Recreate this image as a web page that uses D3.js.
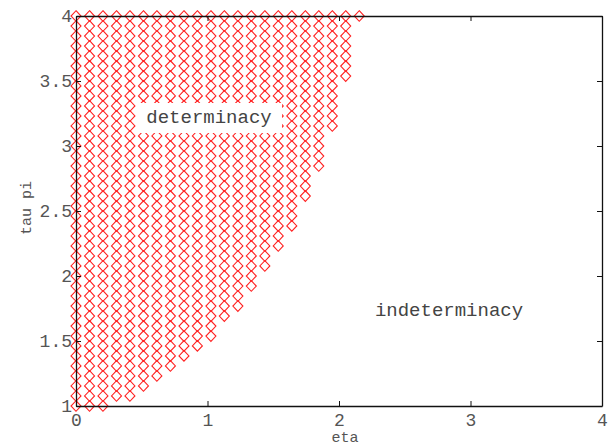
<!DOCTYPE html>
<html>
<head>
<meta charset="utf-8">
<script src="https://cdn.jsdelivr.net/npm/d3@7"></script>
<style>
  body { margin: 0; background: #fff; }
  svg { display: block; }
</style>
</head>
<body>
<svg id="chart" width="615" height="446"></svg>
<script>
// grid levels of the parameter scan
let etaLevels = [0, 0.103, 0.205, 0.308, 0.410, 0.513, 0.615, 0.718, 0.821, 0.923,
    1.026, 1.128, 1.231, 1.333, 1.436, 1.538, 1.641, 1.744, 1.846, 1.949, 2.051, 2.154];

let tauLevels = [1, 1.077, 1.154, 1.231, 1.308, 1.385, 1.462, 1.538, 1.615, 1.692,
    1.769, 1.846, 1.923, 2, 2.077, 2.154, 2.231, 2.308, 2.385, 2.462,
    2.538, 2.615, 2.692, 2.769, 2.846, 2.923, 3, 3.077, 3.154, 3.231,
    3.308, 3.385, 3.462, 3.538, 3.615, 3.692, 3.769, 3.846, 3.923, 4];

// for each tau row, index of the last eta column that is still determinate
let lastColumn = [2, 4, 5, 6, 7, 8, 9, 10, 10, 11,
    12, 12, 13, 13, 14, 14, 15, 15, 16, 16,
    16, 17, 17, 17, 18, 18, 18, 18, 19, 19,
    19, 19, 19, 20, 20, 20, 20, 20, 20, 21];

let xTicks = [0, 1, 2, 3, 4];
let yTicks = [1, 1.5, 2, 2.5, 3, 3.5, 4];

let points = [];
tauLevels.forEach((tau, k) => {
    for (let j = 0; j <= lastColumn[k]; j++) {
        points.push({eta: etaLevels[j], tau: tau});
    }
});

let svg = d3.select('#chart');
let mLeft = 76, mRight = 602, mTop = 16, mBottom = 406;

let x = d3.scaleLinear().domain([0, 4]).range([mLeft, mRight]);
let y = d3.scaleLinear().domain([1, 4]).range([mBottom, mTop]);

let font = '"Liberation Mono", "DejaVu Sans Mono", monospace';
let fmt = d => String(d);

// markers
let diamond = 'M0,-5.3L5,0L0,5.3L-5,0Z';
svg.append('g')
    .selectAll('path')
    .data(points)
    .join('path')
    .attr('d', diamond)
    .attr('transform', d => `translate(${x(d.eta)},${y(d.tau)})`)
    .attr('fill', 'none')
    .attr('stroke', '#ff2020')
    .attr('stroke-width', 1.1);

// axes (inward ticks on every side)
function styleAxis(g) {
    g.select('.domain').attr('stroke', '#111').attr('stroke-width', 1.3);
    g.selectAll('.tick line').attr('stroke', '#111');
    g.selectAll('.tick text')
        .attr('fill', '#555')
        .attr('font-family', font)
        .attr('font-size', 18);
}

svg.append('g')
    .attr('transform', `translate(0,${mBottom})`)
    .call(d3.axisBottom(x).tickValues(xTicks).tickFormat(fmt)
        .tickSizeInner(-5).tickSizeOuter(0).tickPadding(7))
    .call(styleAxis);

svg.append('g')
    .attr('transform', `translate(0,${mTop})`)
    .call(d3.axisTop(x).tickValues(xTicks).tickSizeInner(-5).tickSizeOuter(0).tickFormat(''))
    .call(styleAxis);

svg.append('g')
    .attr('transform', `translate(${mLeft},0)`)
    .call(d3.axisLeft(y).tickValues(yTicks).tickFormat(fmt)
        .tickSizeInner(-5).tickSizeOuter(0).tickPadding(4))
    .call(styleAxis);

svg.append('g')
    .attr('transform', `translate(${mRight},0)`)
    .call(d3.axisRight(y).tickValues(yTicks).tickSizeInner(-5).tickSizeOuter(0).tickFormat(''))
    .call(styleAxis);

// region labels
svg.append('rect')
    .attr('x', 137).attr('y', 103)
    .attr('width', 145).attr('height', 30)
    .attr('fill', '#fff');

svg.append('text')
    .attr('x', 209).attr('y', 123)
    .attr('text-anchor', 'middle')
    .attr('font-family', font)
    .attr('font-size', 19)
    .attr('fill', '#444')
    .text('determinacy');

svg.append('text')
    .attr('x', 449).attr('y', 316)
    .attr('text-anchor', 'middle')
    .attr('font-family', font)
    .attr('font-size', 19)
    .attr('fill', '#444')
    .text('indeterminacy');

// axis titles
svg.append('text')
    .attr('x', 345).attr('y', 442)
    .attr('text-anchor', 'middle')
    .attr('font-family', font)
    .attr('font-size', 15)
    .attr('fill', '#555')
    .text('eta');

svg.append('text')
    .attr('transform', 'translate(31,208) rotate(-90)')
    .attr('text-anchor', 'middle')
    .attr('font-family', font)
    .attr('font-size', 15)
    .attr('fill', '#555')
    .text('tau pi');
</script>
</body>
</html>
